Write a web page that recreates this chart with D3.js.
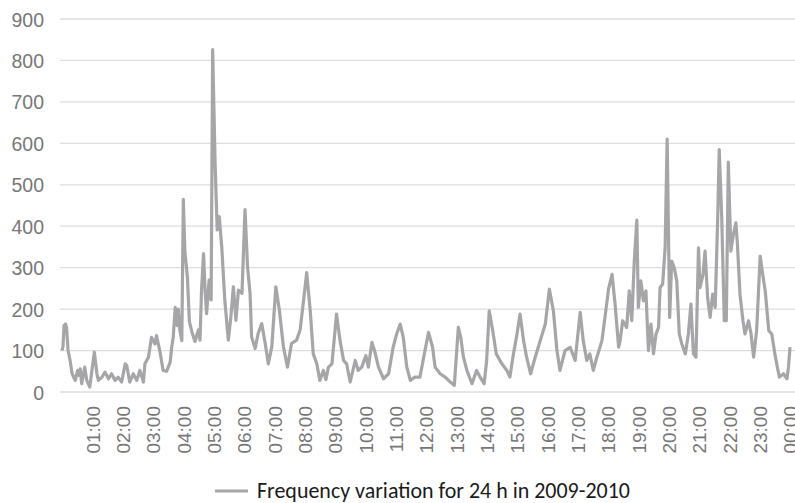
<!DOCTYPE html>
<html>
<head>
<meta charset="utf-8">
<script src="https://cdn.jsdelivr.net/npm/d3@7"></script>
<style>
  html, body { margin: 0; padding: 0; background: #fff; }
  svg { display: block; }
</style>
</head>
<body>
<svg id="chart" width="795" height="503"></svg>
<script>
// minutes after 00:00
const minutes = [0,2,4,7,9,12,16,20,26,31,34,36,39,45,49,55,60,64,69,72,79,85,92,98,105,111,118,125,128,134,141,148,154,161,164,171,177,184,187,194,200,207,214,217,220,224,228,230,233,237,240,243,248,252,257,263,270,273,276,280,283,286,291,295,298,303,307,311,316,322,329,334,339,344,349,356,362,367,372,375,382,388,395,402,408,415,423,430,438,446,454,464,471,477,484,491,497,504,510,517,522,527,534,543,550,557,563,570,580,586,593,601,606,613,619,626,636,646,655,662,669,675,682,689,698,708,718,725,733,738,748,758,768,776,784,789,794,801,811,820,827,835,840,845,852,859,870,880,886,893,900,906,913,919,927,936,946,956,964,972,979,985,995,1005,1015,1025,1031,1038,1044,1051,1058,1068,1074,1081,1088,1094,1101,1104,1109,1117,1122,1127,1132,1137,1140,1145,1150,1155,1160,1165,1170,1175,1180,1183,1188,1193,1197,1202,1206,1211,1216,1221,1226,1233,1239,1244,1249,1254,1259,1262,1268,1272,1277,1282,1287,1292,1297,1300,1305,1310,1314,1318,1323,1328,1333,1336,1341,1347,1351,1358,1363,1368,1374,1381,1386,1391,1398,1404,1410,1415,1419,1427,1434,1437,1440];
// frequency values at those times
const frequency = [100,110,160,164,156,100,76,44,28,52,40,56,20,60,28,12,60,96,44,28,36,48,32,44,28,36,24,68,64,24,44,28,52,24,68,84,132,116,136,96,52,50,72,108,132,204,160,200,150,124,465,340,278,170,145,122,150,125,246,334,246,189,270,222,826,544,391,423,350,222,125,181,254,173,246,238,440,302,238,133,105,141,165,117,68,109,254,197,109,60,117,125,150,212,288,196,92,68,28,52,30,60,68,188,124,76,68,24,76,52,60,88,60,120,96,60,32,44,108,140,164,132,60,28,36,36,100,144,108,60,44,36,24,16,156,130,84,52,20,52,36,20,76,196,148,92,68,52,36,92,140,188,124,84,44,84,124,164,248,196,100,52,100,108,76,192,124,76,92,52,84,124,180,248,284,212,108,124,172,156,244,172,316,415,204,268,220,244,100,164,92,140,156,252,260,348,610,180,316,300,268,140,116,92,140,212,92,84,348,252,284,340,228,180,236,204,420,585,420,172,172,555,340,380,408,356,236,172,140,172,140,84,148,328,284,244,148,140,92,60,36,44,32,60,108];
const yTicks = [0,100,200,300,400,500,600,700,800,900];
const xTickMinutes = [60,120,180,240,300,360,420,480,540,600,660,720,780,840,900,960,1020,1080,1140,1200,1260,1320,1380,1440];
const xTickLabels = ["01:00","02:00","03:00","04:00","05:00","06:00","07:00","08:00","09:00","10:00","11:00","12:00","13:00","14:00","15:00","16:00","17:00","18:00","19:00","20:00","21:00","22:00","23:00","00:00"];
const legendLabel = "Frequency variation for 24 h in 2009-2010";

const data = minutes.map((m, i) => ({ m, v: frequency[i] }));

const svg = d3.select("#chart");
const x = d3.scaleLinear().domain([0, 1440]).range([62, 790]);
const y = d3.scaleLinear().domain([0, 900]).range([392, 19]);

const labelFont = "'Liberation Sans', Arial, sans-serif";
const labelColor = "#777777";

// grid
svg.append("g")
  .selectAll("line")
  .data(yTicks)
  .join("line")
  .attr("x1", 60).attr("x2", 795)
  .attr("y1", d => y(d)).attr("y2", d => y(d))
  .attr("stroke", "#dddddd")
  .attr("stroke-width", 1.3);

// y axis labels
const yAxis = d3.axisLeft(y).tickValues(yTicks).tickSize(0).tickPadding(0);
const gy = svg.append("g").attr("transform", "translate(44,0)").call(yAxis);
gy.select(".domain").remove();
gy.selectAll("text")
  .attr("x", 0)
  .attr("dy", "0.36em")
  .style("font-family", labelFont)
  .style("font-size", "19.5px")
  .style("fill", labelColor);

// x axis labels
const xAxis = d3.axisBottom(x).tickValues(xTickMinutes).tickSize(0)
  .tickFormat((d, i) => xTickLabels[i]);
const gx = svg.append("g").attr("transform", "translate(0,392)").call(xAxis);
gx.select(".domain").remove();
gx.selectAll("text")
  .attr("transform", "rotate(-90)")
  .attr("text-anchor", "end")
  .attr("x", -14)
  .attr("y", 0)
  .attr("dy", "0.36em")
  .style("font-family", labelFont)
  .style("font-size", "19px")
  .style("fill", labelColor);

// line
const line = d3.line().x(d => x(d.m)).y(d => y(d.v)).curve(d3.curveLinear);
svg.append("path")
  .datum(data)
  .attr("d", line)
  .attr("fill", "none")
  .attr("stroke", "#a6a6a9")
  .attr("stroke-width", 3.2)
  .attr("stroke-linejoin", "round");

// legend
const lg = svg.append("g");
lg.append("line")
  .attr("x1", 215).attr("x2", 248)
  .attr("y1", 491).attr("y2", 491)
  .attr("stroke", "#a6a6a9").attr("stroke-width", 3);
const lt = lg.append("text")
  .attr("x", 257).attr("y", 498)
  .style("font-family", "Carlito, 'Open Sans', 'Noto Sans', sans-serif")
  .style("font-size", "20px")
  .style("fill", "#1a1a1a")
  .text(legendLabel);
const w = lt.node().getComputedTextLength();
const fs = 20 * 373 / w;
lt.style("font-size", fs.toFixed(2) + "px");
</script>
</body>
</html>
